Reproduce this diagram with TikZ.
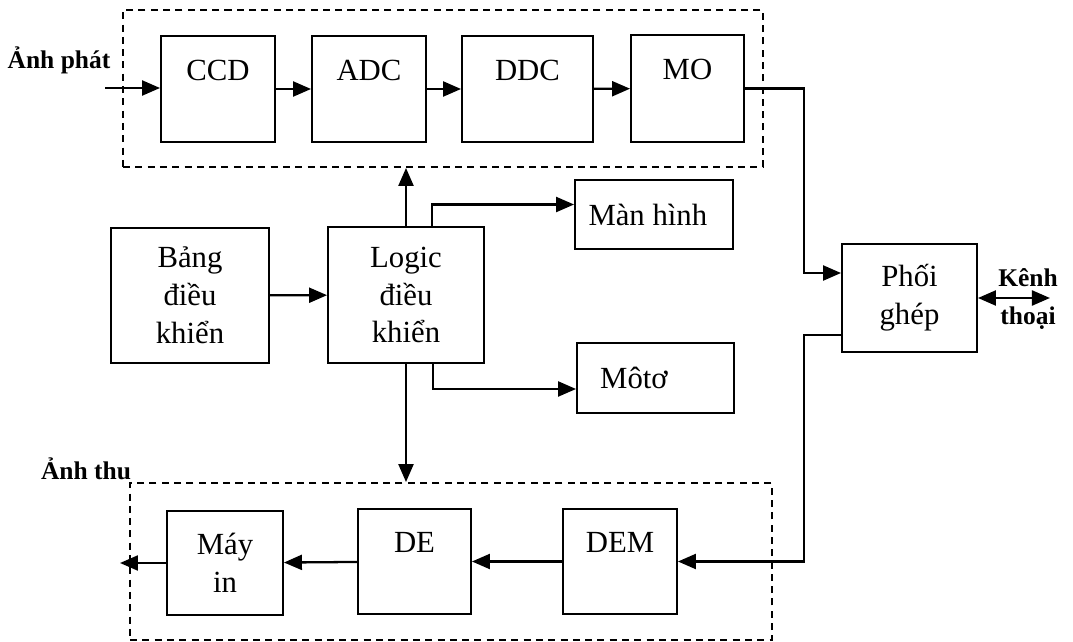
\documentclass[tikz,border=0pt]{standalone}
\usepackage{fontspec}
\setmainfont{Liberation Serif}
\usetikzlibrary{arrows.meta}

\tikzset{
  blk/.style={draw, line width=1.1pt, inner sep=0pt, align=center,
    font=\fontsize{17.5}{21.5}\selectfont},
  grp/.style={draw, line width=1.1pt, dash pattern=on 4pt off 3pt, inner sep=0pt},
  lbl/.style={font=\bfseries\fontsize{14.5}{21.5}\selectfont, align=center},
  arr/.style={-{Triangle[length=3.6mm,width=3mm]}, line width=1.3pt},
  darr/.style={{Triangle[length=3.6mm,width=3mm]}-{Triangle[length=3.6mm,width=3mm]}, line width=1.3pt},
}

\begin{document}
\begin{tikzpicture}[x=0.02cm,y=-0.02cm]
\useasboundingbox (0,0) rectangle (1073,642);

% Groups
\node[grp, minimum width=12.8cm, minimum height=3.14cm] (tx) at (443,88.5) {};
\node[grp, minimum width=12.84cm, minimum height=3.14cm] (rx) at (451,561.5) {};

% Transmit chain
\node[blk, minimum width=2.28cm, minimum height=2.12cm] (ccd) at (218,89) {CCD\\~};
\node[blk, minimum width=2.28cm, minimum height=2.12cm] (adc) at (369,89) {ADC\\~};
\node[blk, minimum width=2.62cm, minimum height=2.12cm] (ddc) at (527.5,89) {DDC\\~};
\node[blk, minimum width=2.26cm, minimum height=2.14cm] (mo) at (687.5,88.5) {MO\\~};

% Control
\node[blk, minimum width=3.16cm, minimum height=2.7cm] (bang) at (190,295.5) {Bảng\\điều\\khiển};
\node[blk, minimum width=3.12cm, minimum height=2.72cm] (logic) at (406,295) {Logic\\điều\\khiển};
\node[blk, minimum width=3.16cm, minimum height=1.38cm] (manhinh) at (654,214.5) {Màn hình\hspace{0.4em}};
\node[blk, minimum width=3.14cm, minimum height=1.4cm] (moto) at (655.5,378) {Môtơ\hspace{1.4em}};
\node[blk, minimum width=2.7cm, minimum height=2.16cm] (mux) at (909.5,298) {Phối\\ghép};

% Receive chain
\node[blk, minimum width=2.28cm, minimum height=2.1cm] (dem) at (620,561.5) {DEM\\~};
\node[blk, minimum width=2.26cm, minimum height=2.1cm] (de) at (414.5,561.5) {DE\\~};
\node[blk, minimum width=2.32cm, minimum height=2.08cm] (mayin) at (225,563) {Máy\\in};

% Labels
\node[lbl] (anhphat) at (59,60) {Ảnh phát};
\node[lbl] (anhthu) at (86,469) {Ảnh thu};
\node[lbl] (kenh) at (1028,299) {Kênh\\thoại};

\coordinate (in) at (105,88);
\coordinate (out) at (120,563);

% Connectors
\draw[arr] (in) -- (in -| ccd.west);
\draw[arr] (ccd) -- (adc);
\draw[arr] (adc) -- (ddc);
\draw[arr] (ddc) -- (mo);
\draw[arr] (mo.east) -- ++(59,0) |- ([yshift=0.5cm]mux.west);
\draw[arr] ([yshift=-0.74cm]mux.west) -- ++(-37,0) |- (dem.east);
\draw[darr] (mux.east) -- ++(72,0);

\draw[arr] (bang) -- (logic);
\draw[arr] (logic.north) -- (logic.north |- tx.south);
\draw[arr] ([xshift=0.52cm]logic.north) |- ([yshift=0.2cm]manhinh.west);
\draw[arr] (logic.south) -- (logic.south |- rx.north);
\draw[arr] ([xshift=0.54cm]logic.south) |- ([yshift=-0.22cm]moto.west);

\draw[arr] (dem) -- (de);
\draw[arr] (de) -- (mayin);
\draw[arr] (mayin.west) -- (out);

\end{tikzpicture}
\end{document}
